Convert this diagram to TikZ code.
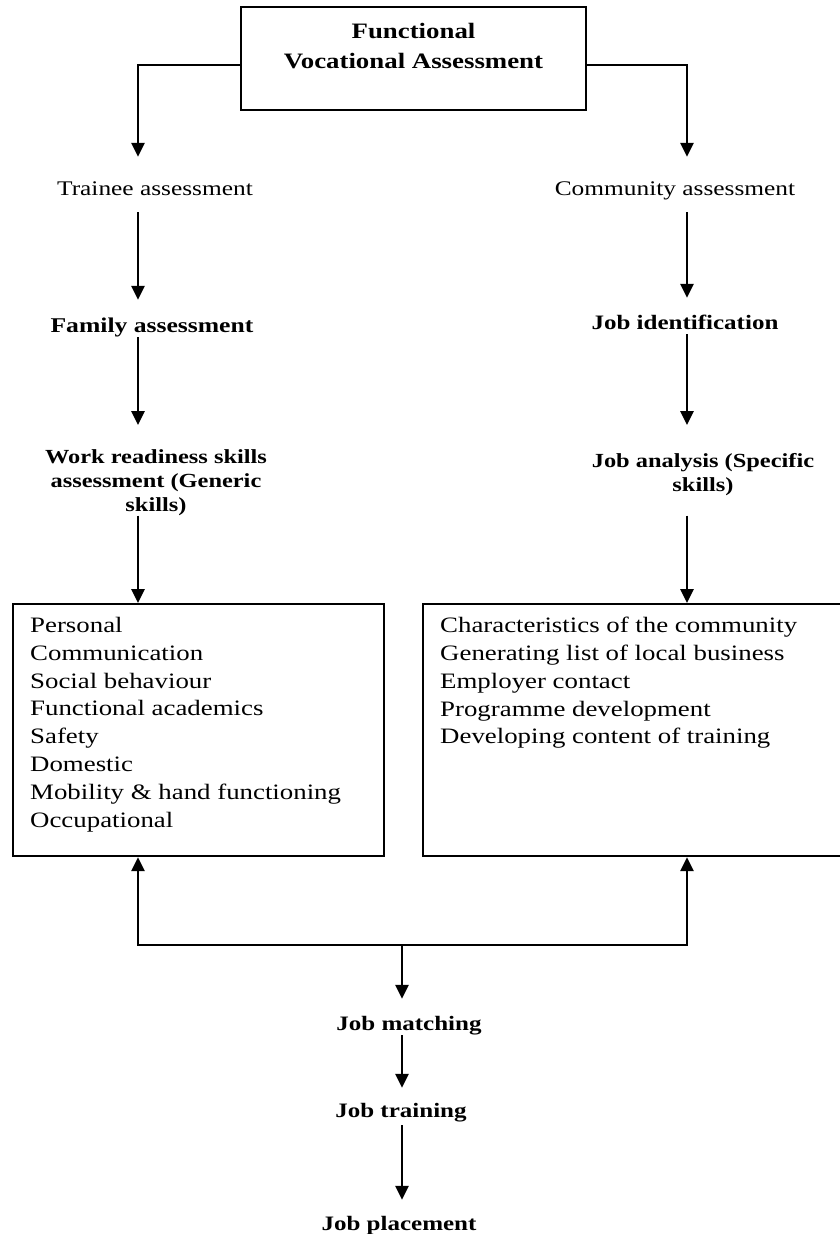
\documentclass[tikz,border=0pt]{standalone}
\usepackage{fontspec}
\setmainfont{Liberation Serif}[FakeStretch=1.22]
\usetikzlibrary{arrows.meta,calc}
\begin{document}
\begin{tikzpicture}[x=1pt,y=-1pt,
  lbl/.style={inner sep=0pt, text height=15pt, text depth=5pt, font=\fontsize{20.8}{24}\selectfont},
  blbl/.style={inner sep=0pt, text height=15pt, text depth=5pt, font=\fontsize{20.5}{24}\selectfont\bfseries},
  mlbl/.style={inner sep=0pt, align=center, font=\fontsize{20}{24}\selectfont\bfseries},
  items/.style={inner sep=0pt, align=left, anchor=north west, font=\fontsize{22}{27.8}\selectfont},
  frame/.style={draw, line width=2.1pt, inner sep=0pt},
  arr/.style={line width=2.7pt, -{Triangle[length=14pt,width=13pt]}},
  ]
\useasboundingbox (0,0) rectangle (839,1234);
\coordinate (lx) at (138,0);
\coordinate (rx) at (687,0);

% top box
\node[frame, minimum width=345pt, minimum height=103pt] (fva) at (413.5,58.5) {};
\node[inner sep=0pt, align=center, font=\fontsize{22}{30}\selectfont\bfseries] (fvat) at (413.5,46) {Functional\\Vocational Assessment};

% left column
\node[lbl] (trainee) at (155,190) {Trainee assessment};
\node[blbl, font=\fontsize{21}{24}\selectfont\bfseries] (family) at (152,327) {Family assessment};
\node[mlbl, anchor=north] (work) at (156,449) {Work readiness skills\\assessment (Generic\\skills)};

% right column
\node[lbl] (community) at (675,190) {Community assessment};
\node[blbl] (jobid) at (685,324) {Job identification};
\node[mlbl, anchor=north] (jobana) at (703,453) {Job analysis (Specific\\skills)};

% boxes
\node[frame, minimum width=371pt, minimum height=252pt, anchor=north west] (lbox) at (12,603) {};
\node[frame, minimum width=440pt, minimum height=252pt, anchor=north west] (rbox) at (422,603) {};
\node[items] (litems) at (30,617) {Personal\\Communication\\Social behaviour\\Functional academics\\Safety\\Domestic\\Mobility \& hand functioning\\Occupational};
\node[items] (ritems) at (440,617) {Characteristics of the community\\Generating list of local business\\Employer contact\\Programme development\\Developing content of training};

% bottom
\coordinate (junc) at (402,945);
\node[blbl] (match) at (409,1025) {Job matching};
\node[blbl] (training) at (401,1112) {Job training};
\node[blbl] (placement) at (399,1225) {Job placement};

% connectors
\draw[arr, shorten >=23pt] ([yshift=-6.5pt]fva.west) -| (trainee.north -| lx);
\draw[arr, shorten >=23pt] ([yshift=-6.5pt]fva.east) -| (community.north -| rx);
\draw[arr, shorten <=12pt, shorten >=17pt] (trainee.south -| lx) -- (family.north -| lx);
\draw[arr, shorten >=24pt] (family.south -| lx) -- (work.north -| lx);
\draw[arr] (work.south -| lx) -- (lbox.north -| lx);
\draw[arr, shorten <=12pt, shorten >=16pt] (community.south -| rx) -- (jobid.north -| rx);
\draw[arr, shorten >=28pt] (jobid.south -| rx) -- (jobana.north -| rx);
\draw[arr, shorten <=20pt] (jobana.south -| rx) -- (rbox.north -| rx);
\draw[arr] (junc) -| (lbox.south -| lx);
\draw[arr] (junc) -| (rbox.south -| rx);
\draw[arr, shorten >=16pt] (junc) -- (match.north -| junc);
\draw[arr, shorten >=14pt] (match.south -| junc) -- (training.north -| junc);
\draw[arr, shorten <=3pt, shorten >=15pt] (training.south -| junc) -- (placement.north -| junc);
\end{tikzpicture}
\end{document}
